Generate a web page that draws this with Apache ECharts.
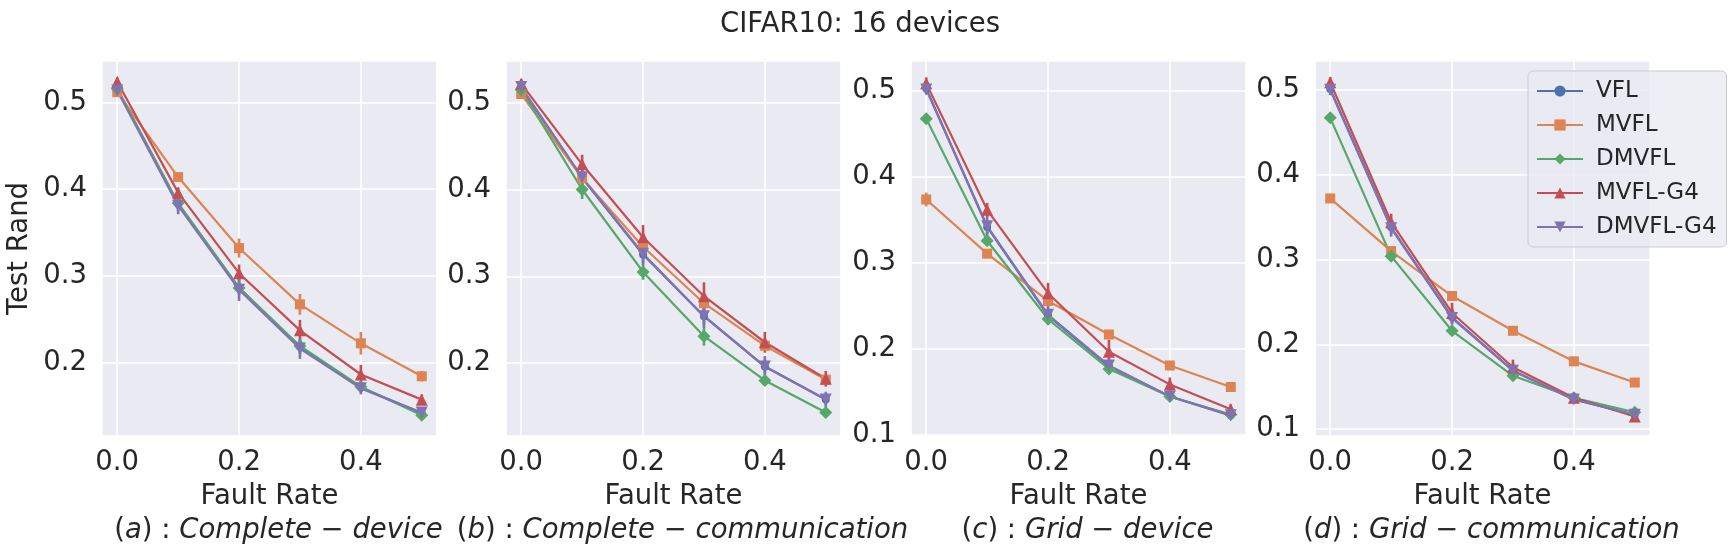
<!DOCTYPE html>
<html>
<head>
<meta charset="utf-8">
<script src="https://cdn.jsdelivr.net/npm/echarts@6/dist/echarts.min.js"></script>
<style>
  html, body { margin: 0; padding: 0; background: #fff; }
  #chart { width: 1733px; height: 559px; }
</style>
</head>
<body>
<div id="chart"></div>
<script>
// CIFAR10, 16 devices: test Rand vs fault rate, 4 topologies

const faultRate = [0, 0.1, 0.2, 0.3, 0.4, 0.5];
const methods = ['VFL', 'MVFL', 'DMVFL', 'MVFL-G4', 'DMVFL-G4'];

// rows follow `methods`
const meanA = [
  [0.516, 0.383, 0.286, 0.218, 0.171, 0.141],
  [0.512, 0.414, 0.332, 0.267, 0.222, 0.184],
  [0.516, 0.384, 0.286, 0.219, 0.172, 0.139],
  [0.524, 0.396, 0.303, 0.237, 0.186, 0.157],
  [0.514, 0.381, 0.284, 0.216, 0.170, 0.142],
];
const errA = [
  [0.003, 0.008, 0.008, 0.008, 0.005, 0.004],
  [0.004, 0.005, 0.011, 0.012, 0.013, 0.006],
  [0.003, 0.005, 0.005, 0.005, 0.004, 0.003],
  [0.005, 0.006, 0.010, 0.012, 0.011, 0.006],
  [0.003, 0.010, 0.013, 0.012, 0.007, 0.005],
];

const meanB = [
  [0.517, 0.413, 0.325, 0.254, 0.196, 0.158],
  [0.510, 0.413, 0.334, 0.269, 0.220, 0.181],
  [0.515, 0.400, 0.305, 0.231, 0.180, 0.143],
  [0.522, 0.429, 0.345, 0.277, 0.224, 0.182],
  [0.518, 0.414, 0.326, 0.254, 0.196, 0.158],
];
const errB = [
  [0.004, 0.008, 0.010, 0.010, 0.008, 0.006],
  [0.004, 0.005, 0.006, 0.006, 0.005, 0.004],
  [0.003, 0.011, 0.009, 0.011, 0.005, 0.004],
  [0.005, 0.011, 0.014, 0.016, 0.012, 0.009],
  [0.004, 0.010, 0.013, 0.013, 0.012, 0.009],
];

const meanC = [
  [0.503, 0.342, 0.239, 0.180, 0.145, 0.123],
  [0.374, 0.311, 0.256, 0.217, 0.181, 0.156],
  [0.468, 0.326, 0.235, 0.177, 0.145, 0.124],
  [0.509, 0.362, 0.265, 0.197, 0.159, 0.130],
  [0.502, 0.343, 0.240, 0.181, 0.145, 0.123],
];
const errC = [
  [0.005, 0.008, 0.008, 0.006, 0.004, 0.004],
  [0.008, 0.004, 0.006, 0.004, 0.004, 0.004],
  [0.004, 0.004, 0.004, 0.004, 0.004, 0.003],
  [0.007, 0.008, 0.012, 0.014, 0.008, 0.006],
  [0.006, 0.012, 0.012, 0.008, 0.005, 0.004],
];

const meanD = [
  [0.501, 0.338, 0.232, 0.169, 0.135, 0.117],
  [0.372, 0.310, 0.257, 0.216, 0.180, 0.155],
  [0.467, 0.304, 0.216, 0.163, 0.137, 0.120],
  [0.509, 0.344, 0.237, 0.173, 0.137, 0.115],
  [0.500, 0.337, 0.231, 0.169, 0.135, 0.117],
];
const errD = [
  [0.005, 0.008, 0.006, 0.005, 0.004, 0.004],
  [0.004, 0.004, 0.003, 0.003, 0.004, 0.003],
  [0.004, 0.004, 0.004, 0.003, 0.003, 0.003],
  [0.006, 0.010, 0.012, 0.009, 0.006, 0.005],
  [0.006, 0.010, 0.008, 0.006, 0.004, 0.004],
];

const panelLetters = ['a', 'b', 'c', 'd'];
const panelNames = [['Complete', 'device'], ['Complete', 'communication'], ['Grid', 'device'], ['Grid', 'communication']];
const yRange = [[0.115, 0.548], [0.116, 0.548], [0.099, 0.535], [0.092, 0.534]];

const COLORS = ['#4C72B0', '#DD8452', '#55A868', '#C44E52', '#8172B3'];
const SYMBOLS = ['circle', 'rect', 'diamond', 'triangle', 'triangle'];
const SYM_SIZE = [8, 10, 13, 12, 12];
const SYM_ROT = [0, 0, 0, 0, 180];
const TEXT = '#262626';
const FONT = 'DejaVu Sans';
const FS = 27.5;

const PANEL_LEFT = [102, 506, 911, 1315];
const PANEL_W = 335;
const PANEL_TOP = 61;
const PANEL_H = 375;

const means = [meanA, meanB, meanC, meanD];
const errs = [errA, errB, errC, errD];

const onTenth = v => Math.abs(v * 10 - Math.round(v * 10)) < 1e-6;

const grids = [], xAxes = [], yAxes = [], series = [], titles = [];

PANEL_LEFT.forEach((left, p) => {
  grids.push({
    left, top: PANEL_TOP, width: PANEL_W, height: PANEL_H,
    show: true, backgroundColor: '#EAEAF2', borderWidth: 0,
  });
  xAxes.push({
    gridIndex: p, type: 'value', min: -0.025, max: 0.525, splitNumber: 3,
    name: 'Fault Rate', nameLocation: 'middle', nameGap: 47,
    nameTextStyle: { color: TEXT, fontFamily: FONT, fontSize: FS },
    axisLine: { show: false }, axisTick: { show: false },
    axisLabel: { color: TEXT, fontFamily: FONT, fontSize: FS, margin: 13,
      formatter: v => onTenth(v) ? v.toFixed(1) : '' },
    splitLine: { lineStyle: { color: '#ffffff', width: 1.6 } },
  });
  yAxes.push({
    gridIndex: p, type: 'value', min: yRange[p][0], max: yRange[p][1], splitNumber: 4,
    name: p === 0 ? 'Test Rand' : '', nameLocation: 'middle', nameGap: 68,
    nameTextStyle: { color: TEXT, fontFamily: FONT, fontSize: FS },
    axisLine: { show: false }, axisTick: { show: false },
    axisLabel: { color: TEXT, fontFamily: FONT, fontSize: FS, margin: 15,
      formatter: v => onTenth(v) ? v.toFixed(1) : '' },
    splitLine: { lineStyle: { color: '#ffffff', width: 1.6 } },
  });

  methods.forEach((name, k) => {
    const m = means[p][k], e = errs[p][k];
    series.push({
      name: name + '-err', type: 'custom', xAxisIndex: p, yAxisIndex: p,
      encode: { x: 0, y: [1, 2] },
      data: faultRate.map((x, i) => [x, m[i] - e[i], m[i] + e[i]]),
      renderItem: (params, api) => {
        const lo = api.coord([api.value(0), api.value(1)]);
        const hi = api.coord([api.value(0), api.value(2)]);
        return { type: 'line', shape: { x1: lo[0], y1: lo[1], x2: hi[0], y2: hi[1] },
          style: { stroke: COLORS[k], lineWidth: 2.6 } };
      },
      z: 2, silent: true,
    });
    series.push({
      name, type: 'line', xAxisIndex: p, yAxisIndex: p,
      data: faultRate.map((x, i) => [x, m[i]]),
      symbol: SYMBOLS[k], symbolSize: SYM_SIZE[k], symbolRotate: SYM_ROT[k],
      showSymbol: true, lineStyle: { color: COLORS[k], width: 2.2 },
      itemStyle: { color: COLORS[k] }, z: 2, silent: true,
    });
  });

  const [word1, word2] = panelNames[p];
  titles.push({
    text: `{u|(}{i|${panelLetters[p]}}{u|) : }{i|${word1}}{u| − }{i|${word2}}`,
    left: left + PANEL_W / 2 + 4, top: 512, textAlign: 'center',
    textStyle: {
      fontWeight: 'normal',
      rich: {
        u: { fontFamily: FONT, fontSize: FS, color: TEXT, fontWeight: 'normal' },
        i: { fontFamily: FONT, fontSize: FS, color: TEXT, fontWeight: 'normal', fontStyle: 'italic' },
      },
    },
  });
});

titles.push({
  text: 'CIFAR10: 16 devices', left: 855, top: 6, textAlign: 'center',
  textStyle: { fontFamily: FONT, fontSize: FS, fontWeight: 'normal', color: TEXT },
});

const chart = echarts.init(document.getElementById('chart'), null, { renderer: 'canvas' });
chart.setOption({
  animation: false,
  title: titles,
  grid: grids,
  xAxis: xAxes,
  yAxis: yAxes,
  legend: {
    data: methods, orient: 'vertical', left: 1528, top: 71,
    padding: [8, 10, 8, 8], itemGap: 10, itemWidth: 46, itemHeight: 14,
    backgroundColor: 'rgba(234,234,242,0.8)', borderColor: '#cccccc', borderWidth: 1, borderRadius: 5,
    textStyle: { fontFamily: FONT, fontSize: 23, color: TEXT, lineHeight: 24, padding: [0, 0, 0, 8] },
  },
  series,
});
</script>
</body>
</html>
